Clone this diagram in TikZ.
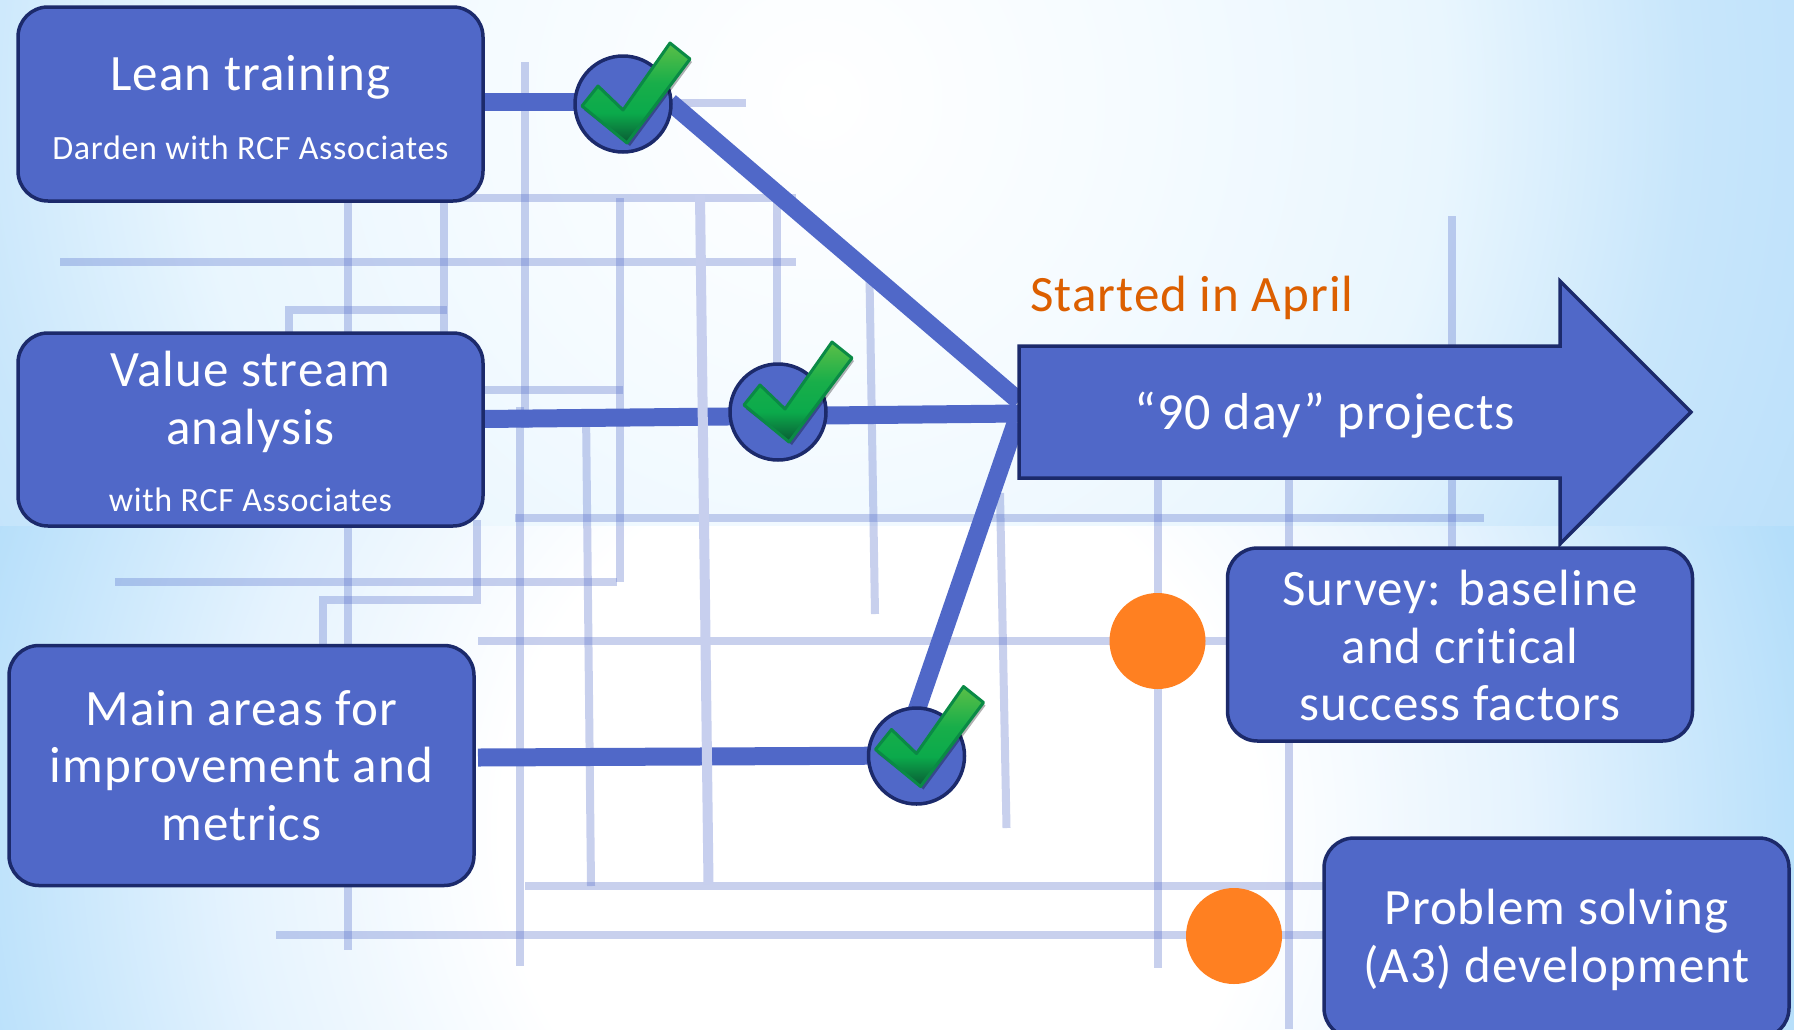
\documentclass[tikz,border=0pt]{standalone}
\usepackage{fontspec}
\setmainfont[LetterSpace=2.0,Ligatures=NoCommon]{Carlito}
\definecolor{boxfill}{HTML}{5068C8}
\definecolor{boxedge}{HTML}{1C2A6B}
\definecolor{orangedot}{HTML}{FF8021}
\definecolor{startedtext}{HTML}{DC5F00}
\definecolor{faint}{HTML}{C7CFEE}
\definecolor{chkedge}{HTML}{0A8A45}
\definecolor{chktop}{HTML}{5BBF47}
\definecolor{chkupper}{HTML}{18AE4A}
\definecolor{chkmid}{HTML}{0BAA4B}
\definecolor{chkbot}{HTML}{0A5A34}
\definecolor{bga}{HTML}{F5FBFF}
\definecolor{bgb}{HTML}{E9F6FE}
\definecolor{bgc}{HTML}{C8E6FB}
\definecolor{bgd}{HTML}{B5DDFA}
\definecolor{bge}{HTML}{E5F3FE}
\definecolor{bgf}{HTML}{B4DEFA}
\definecolor{bgg}{HTML}{A0D4F8}
\pgfdeclareradialshading{bgtop}{\pgfpoint{0bp}{0bp}}{color(0bp)=(white); color(7.4bp)=(bga); color(14.2bp)=(bgb); color(19.7bp)=(bgc); color(27bp)=(bgd); color(50bp)=(bgd)}
\pgfdeclareradialshading{bgbot}{\pgfpoint{0bp}{0bp}}{color(0bp)=(white); color(8.6bp)=(white); color(14.7bp)=(bge); color(21.6bp)=(bgf); color(27bp)=(bgg); color(50bp)=(bgg)}
\pgfdeclareverticalshading{chkshade}{100bp}{color(0bp)=(chkbot); color(25bp)=(chkbot); color(40bp)=(chkmid); color(55bp)=(chkupper); color(75bp)=(chktop); color(100bp)=(chktop)}
\tikzset{
  x=1pt,y=-1pt,
  stepbox/.style={draw=boxedge,line width=3.5pt,fill=boxfill,rounded corners=30pt,text=white,align=center,inner sep=0pt,outer sep=0pt,font=\fontsize{51}{57.5}\selectfont},
  feeder/.style={draw=boxfill,line width=18pt},
  grid line/.style={draw=boxfill,draw opacity=.31,line width=8pt},
  top grid line/.style={draw=faint,line width=10pt},
  hub/.style={circle,draw=boxedge,line width=3.5pt,fill=boxfill,minimum size=96pt,inner sep=0pt,outer sep=0pt},
  dot/.style={circle,fill=orangedot,minimum size=96pt,inner sep=0pt,outer sep=0pt},
  tick/.pic={
    \fill[black,opacity=.3,line join=round] (49,-58)--(69,-42)--(7,42)--(-39,6)--(-23,-15)--(3,9)--cycle;
    \shade[shading=chkshade,draw=chkedge,line width=3pt,line join=round]
      (47,-61)--(67,-45)--(4,39)--(-41,2)--(-25,-18)--(0,6)--cycle;
  }
}
\newcommand{\smalltxt}{\fontsize{34}{38}\selectfont}
\begin{document}
\begin{tikzpicture}
\useasboundingbox (0,0) rectangle (1794,1029);
% background
\begin{scope}
  \clip (0,525) rectangle (1794,1029);
  \shade[shading=bgbot] (880,830) circle (1100);
\end{scope}
\begin{scope}
  \clip (0,0) rectangle (1794,525);
  \shade[shading=bgtop] (820,100) circle (1100);
\end{scope}
% pale grid
\draw[grid line] (525,62) -- (525,428);
\draw[grid line] (519.5,407) -- (519.5,966);
\draw[grid line] (650,103) -- (746,103);
\draw[grid line] (459,198) -- (796,198);
\draw[grid line] (347.5,201) -- (347.5,950);
\draw[grid line] (444,201) -- (444,333);
\draw[grid line] (60,262) -- (796,262);
\draw[grid line] (289,340) -- (289,310) -- (447,310);
\draw[grid line] (620,198) -- (620,582);
\draw[grid line] (483,390) -- (623,390);
\draw[grid line] (777,198) -- (777,380);
\draw[grid line] (869.5,278) -- (875,614);
\draw[grid line] (586,410) -- (591,886);
\draw[grid line] (515,518) -- (1484,518);
\draw[grid line] (476.5,520) -- (476.5,600) -- (322.6,600) -- (322.6,650);
\draw[grid line] (115,582) -- (617,582);
\draw[grid line] (478,641) -- (1227,641);
\draw[grid line] (525,885.7) -- (1330,885.7);
\draw[grid line] (276,935) -- (1330,935);
\draw[grid line] (1157.5,470) -- (1157.5,968);
\draw[grid line] (1289,470) -- (1289,1029);
\draw[grid line] (1452,216) -- (1452,550);
\draw[grid line] (1000,493) -- (1006.5,828);
% connector end points
\coordinate (hubAPos) at (623,104);
\coordinate (hubBPos) at (778,412);
\coordinate (hubCPos) at (916.5,756);
\coordinate (leanOut) at (483,102);
\coordinate (hubAOut) at (670,102);
\coordinate (hubAIn) at (623,102);
\coordinate (valueOut) at (483,419);
\coordinate (mainOut) at (478,757.5);
\coordinate (hubCIn) at (916.5,755.5);
\coordinate (hubCOut) at (916,712);
\coordinate (arrowA) at (1019,401);
\coordinate (arrowB) at (1019,413.5);
\coordinate (arrowC) at (1016,422);
% connectors
\draw[feeder] (leanOut) -- (hubAIn);
\draw[feeder] (hubAOut) -- (arrowA);
\draw[feeder] (valueOut) -- (arrowB);
\draw[feeder] (mainOut) -- (hubCIn);
\draw[feeder] (hubCOut) -- (arrowC);
\draw[top grid line] (700,195) -- (708.5,884);
% nodes
\node[stepbox,minimum width=465pt,minimum height=194pt] (lean) at (250.5,104) {\rule{0pt}{42pt}Lean training\\[11pt]{\smalltxt Darden with RCF Associates}};
\node[stepbox,minimum width=465pt,minimum height=193pt] (value) at (250.5,429.5) {\rule{0pt}{40pt}Value stream\\analysis\\[10pt]{\smalltxt with RCF Associates}};
\node[stepbox,minimum width=465pt,minimum height=240pt] (main) at (241.5,765.5) {Main areas for\\improvement and\\metrics};
\node[stepbox,minimum width=465pt,minimum height=193pt] (survey) at (1460,644.5) {\rule{0pt}{38pt}Survey: baseline\\and critical\\success factors};
\node[stepbox,minimum width=465pt,minimum height=200pt] (problem) at (1556.5,938) {\rule{0pt}{39pt}Problem solving\\(A3) development};
\node[hub] (hubA) at (hubAPos) {};
\node[hub] (hubB) at (hubBPos) {};
\node[hub] (hubC) at (hubCPos) {};
\node[dot] (dotA) at (1157.5,641) {};
\node[dot] (dotB) at (1234,936) {};
\pic at (hubA) {tick};
\pic at ([shift={(7,-9)}]hubB) {tick};
\pic at ([shift={(0,-8.5)}]hubC) {tick};
% main arrow
\draw[draw=boxedge,line width=3.5pt,fill=boxfill,line join=miter]
  (1019,346) -- (1560,346) -- (1560,281) -- (1691,412) -- (1560,544) -- (1560,478) -- (1019,478) -- cycle;
\node[text=white,font=\fontsize{52}{57.5}\selectfont,inner sep=0pt] (projects) at (1325,415) {“90 day” projects};
\node[text=startedtext,font=\fontsize{51}{57.5}\selectfont,inner sep=0pt] (started) at (1192,298) {Started in April};
\end{tikzpicture}
\end{document}
